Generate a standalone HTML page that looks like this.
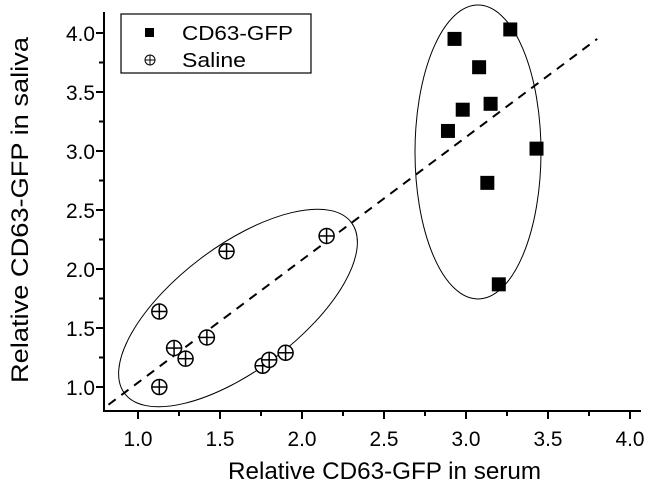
<!DOCTYPE html>
<html><head><meta charset="utf-8"><style>
body{margin:0;background:#fff}
svg{display:block;font-family:"Liberation Sans",Arial,sans-serif}
</style></head><body>
<svg id="c" width="650" height="487" viewBox="0 0 650 487">
<g id="g"></g>
</svg>
<script>
const xTicks=[1.0,1.5,2.0,2.5,3.0,3.5,4.0];
const yTicks=[1.0,1.5,2.0,2.5,3.0,3.5,4.0];
const cdX=[2.93,3.27,3.08,2.98,3.15,2.89,3.43,3.13,3.20];
const cdY=[3.95,4.03,3.71,3.35,3.40,3.17,3.02,2.73,1.87];
const saX=[1.13,1.13,1.22,1.29,1.42,1.54,1.76,1.80,1.90,2.15];
const saY=[1.00,1.64,1.33,1.24,1.42,2.15,1.18,1.23,1.29,2.28];
const fitX=[0.82,3.8];
const fitY=[0.85,3.95];
const X=v=>138+(v-1)*164;
const Y=v=>387-(v-1)*118;
const NS='http://www.w3.org/2000/svg';
const g=document.getElementById('g');
function mk(t,a,p){const e=document.createElementNS(NS,t);for(const k in a)e.setAttribute(k,a[k]);(p||g).appendChild(e);return e;}
let e=mk('line',{x1:104,y1:12,x2:104,y2:411,stroke:'#000','stroke-width':2});


e=mk('line',{x1:103,y1:411,x2:641,y2:411,stroke:'#000','stroke-width':2});


xTicks.forEach((t,i)=>{
  const x=X(t);
  mk('line',{x1:x,y1:411,x2:x,y2:419,stroke:'#000','stroke-width':2});
  if(i<xTicks.length-1){const m=X(t+0.25);mk('line',{x1:m,y1:411,x2:m,y2:416,stroke:'#000','stroke-width':2});}
  const tx=mk('text',{x:x,y:446,'text-anchor':'middle','font-size':21,textLength:29,lengthAdjust:'spacingAndGlyphs'});
  tx.textContent=t.toFixed(1);
  
  
});
yTicks.forEach((t,i)=>{
  const y=Y(t);
  mk('line',{x1:96,y1:y,x2:104,y2:y,stroke:'#000','stroke-width':2});
  if(i<yTicks.length-1){const m=Y(t+0.25);mk('line',{x1:99,y1:m,x2:104,y2:m,stroke:'#000','stroke-width':2});}
  const tx=mk('text',{x:95,y:y+8,'text-anchor':'end','font-size':21,textLength:29,lengthAdjust:'spacingAndGlyphs'});
  tx.textContent=t.toFixed(1);
  
  
});
e=mk('line',{});
e.setAttribute('x1',X(fitX[0]));e.setAttribute('y1',Y(fitY[0]));e.setAttribute('x2',X(fitX[1]));e.setAttribute('y2',Y(fitY[1]));
e.setAttribute('stroke','#000');e.setAttribute('stroke-width',2);e.setAttribute('stroke-dasharray','9,7');


e=mk('ellipse',{cx:238,cy:308,rx:142,ry:62,transform:'rotate(-37 238 308)',fill:'none',stroke:'#000','stroke-width':1});


e=mk('ellipse',{cx:478,cy:152,rx:63,ry:147,fill:'none',stroke:'#000','stroke-width':1});


cdX.forEach((v,i)=>{
  const p=mk('rect',{x:X(v)-7,y:Y(cdY[i])-7,width:14,height:14,fill:'#000'});
  
  
});
saX.forEach((v,i)=>{
  const x=X(v),y=Y(saY[i]);
  const gg=mk('g',{});
  
  
  mk('circle',{cx:x,cy:y,r:7.5,fill:'#fff',stroke:'#000','stroke-width':1.5},gg);
  mk('line',{x1:x-7.5,y1:y,x2:x+7.5,y2:y,stroke:'#000','stroke-width':1.5},gg);
  mk('line',{x1:x,y1:y-7.5,x2:x,y2:y+7.5,stroke:'#000','stroke-width':1.5},gg);
});
const lg=mk('g',{});


mk('rect',{x:121,y:14,width:190,height:59,fill:'#fff',stroke:'#000','stroke-width':1.2},lg);
mk('rect',{x:145,y:28,width:9,height:9,fill:'#000'},lg);
let t=mk('text',{x:182,y:40,'font-size':20,textLength:111,lengthAdjust:'spacingAndGlyphs'},lg);t.textContent='CD63-GFP';


mk('circle',{cx:150,cy:60,r:5,fill:'none',stroke:'#000','stroke-width':1},lg);
mk('line',{x1:145,y1:60,x2:155,y2:60,stroke:'#000','stroke-width':1},lg);
mk('line',{x1:150,y1:55,x2:150,y2:65,stroke:'#000','stroke-width':1},lg);
t=mk('text',{x:182,y:67,'font-size':20,textLength:64,lengthAdjust:'spacingAndGlyphs'},lg);t.textContent='Saline';


t=mk('text',{x:228,y:479,'font-size':24,textLength:313,lengthAdjust:'spacingAndGlyphs'});t.textContent='Relative CD63-GFP in serum';


t=mk('text',{x:0,y:0,'font-size':24,textLength:346,lengthAdjust:'spacingAndGlyphs',transform:'translate(28 383) rotate(-90)'});t.textContent='Relative CD63-GFP in saliva';


</script>
</body></html>
